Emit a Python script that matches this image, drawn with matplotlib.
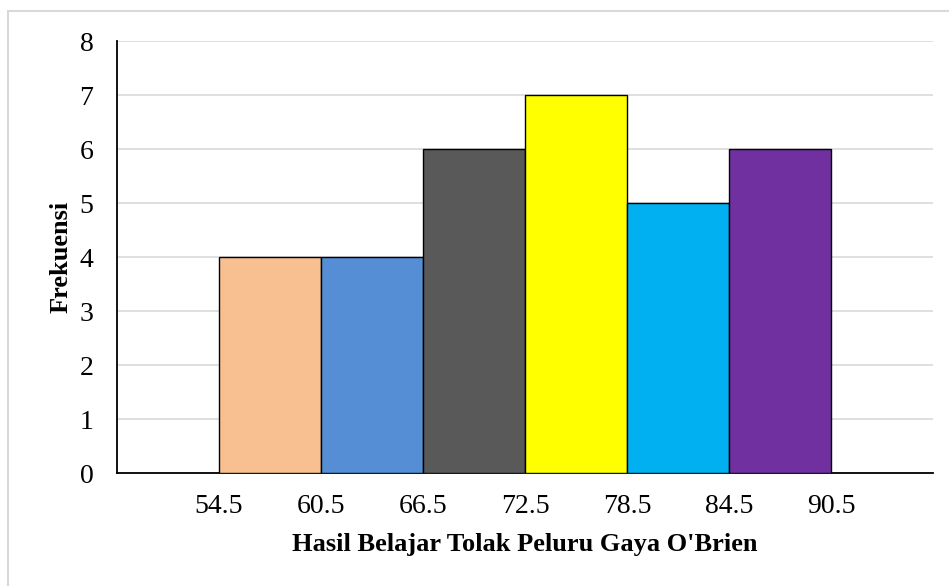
import matplotlib
matplotlib.use('Agg')
import matplotlib.pyplot as plt
from matplotlib.patches import Rectangle

# ── Data ─────────────────────────────────────────────────────────────────────
BIN_EDGES = [54.5, 60.5, 66.5, 72.5, 78.5, 84.5, 90.5]
FREQUENCIES = [4, 4, 6, 7, 5, 6]
BAR_COLORS = ["#F8C090", "#558ED5", "#595959", "#FFFF00", "#00B0F0", "#7030A0"]
X_LABEL = "Hasil Belajar Tolak Peluru Gaya O'Brien"
Y_LABEL = "Frekuensi"
# ─────────────────────────────────────────────────────────────────────────────

plt.rcParams['font.family'] = ['Liberation Serif', 'DejaVu Serif']

fig = plt.figure(figsize=(9.49, 5.86), dpi=100)
ax = fig.add_axes([0.1233, 0.1928, 0.8597, 0.7372])

lefts = BIN_EDGES[:-1]
widths = [b - a for a, b in zip(BIN_EDGES[:-1], BIN_EDGES[1:])]
ax.bar(lefts, FREQUENCIES, width=widths, align="edge",
       color=BAR_COLORS, edgecolor="black", linewidth=1.0, zorder=3)

ax.set_xlim(BIN_EDGES[0] - 6, BIN_EDGES[-1] + 6)
ax.set_ylim(0, 8)
ax.set_xticks(BIN_EDGES)
ax.set_xticklabels([f"{e:.1f}" for e in BIN_EDGES])
ax.set_yticks(range(0, 9))
ax.tick_params(axis="both", length=0, labelsize=20)
ax.tick_params(axis="x", pad=15)
ax.tick_params(axis="y", pad=17)

ax.grid(True, axis="y", color="#d9d9d9", linewidth=1.2, zorder=0)
for side in ("top", "right"):
    ax.spines[side].set_visible(False)
ax.spines["left"].set_linewidth(1.3)
ax.spines["bottom"].set_linewidth(1.3)

ax.set_xlabel(X_LABEL, fontsize=19, fontweight="bold", labelpad=10)
ax.set_ylabel(Y_LABEL, fontsize=19, fontweight="bold", labelpad=5)

# light border around the chart area (right/bottom edges fall outside the image)
fig.patches.append(Rectangle((8 / 949, -0.05), 1.2, 1 - 11 / 586 + 0.05,
                             transform=fig.transFigure, fill=False,
                             edgecolor="#d9d9d9", linewidth=1.5))

fig.savefig("out.png", dpi=100)
